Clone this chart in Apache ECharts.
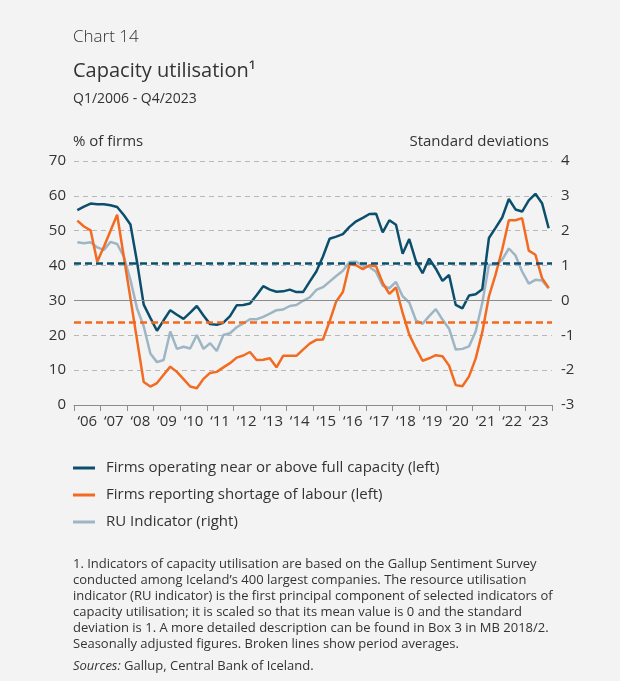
<!DOCTYPE html>
<html>
<head>
<meta charset="utf-8">
<script src="https://cdn.jsdelivr.net/npm/echarts@6/dist/echarts.min.js"></script>
<style>
  html, body { margin: 0; padding: 0; background: #f3f3f3; }
  #chart { width: 620px; height: 681px; }
</style>
</head>
<body>
<div id="chart"></div>
<script>
// Quarterly data, Q1/2006 - Q4/2023
const years = ['‘06','‘07','‘08','‘09','‘10','‘11','‘12','‘13','‘14','‘15','‘16','‘17','‘18','‘19','‘20','‘21','‘22','‘23'];
const quarters = [];
for (let y = 2006; y <= 2023; y++) for (let q = 1; q <= 4; q++) quarters.push('Q' + q + '/' + y);

// Firms operating near or above full capacity, % of firms (left axis)
const fullCapacity = [
  55.9, 56.9, 57.8, 57.6, 57.6, 57.3, 56.8, 54.5,
  51.8, 41.0, 28.8, 25.0, 21.3, 24.3, 27.2, 25.9,
  24.7, 26.5, 28.4, 25.7, 23.2, 23.0, 23.6, 25.5,
  28.6, 28.7, 29.1, 31.5, 34.1, 33.1, 32.5, 32.6,
  33.1, 32.4, 32.4, 35.4, 38.3, 42.6, 47.7, 48.3,
  49.0, 51.1, 52.7, 53.7, 54.8, 54.9, 49.5, 53.0,
  51.7, 43.4, 47.6, 41.3, 37.8, 42.0, 39.1, 35.6,
  37.3, 28.7, 27.7, 31.4, 31.8, 33.2, 47.9, 50.8,
  53.8, 59.1, 56.1, 55.5, 58.7, 60.6, 57.9, 50.7
];

// Firms reporting shortage of labour, % of firms (left axis)
const labourShortage = [
  52.9, 51.2, 50.1, 41.1, 45.4, 50.0, 54.6, 42.6,
  30.6, 18.6, 6.6, 5.3, 6.3, 8.7, 11.0, 9.5,
  7.4, 5.3, 4.8, 7.5, 9.2, 9.5, 10.8, 12.0,
  13.6, 14.2, 15.2, 12.9, 13.0, 13.4, 10.8, 14.1,
  14.1, 14.1, 15.9, 17.6, 18.7, 18.8, 24.0, 29.7,
  32.4, 40.4, 40.1, 39.0, 40.1, 39.8, 35.0, 31.9,
  33.7, 26.4, 20.2, 16.3, 12.7, 13.4, 14.3, 14.0,
  11.3, 5.7, 5.4, 8.2, 13.3, 20.9, 31.2, 37.4,
  44.6, 53.0, 53.0, 53.6, 44.3, 43.1, 36.4, 33.6
];

// Resource utilisation indicator, standard deviations (right axis)
const ruIndicator = [
  1.67, 1.64, 1.67, 1.52, 1.45, 1.68, 1.62, 1.26,
  0.59, -0.23, -0.74, -1.52, -1.77, -1.71, -0.89, -1.39,
  -1.33, -1.38, -0.99, -1.39, -1.23, -1.45, -0.99, -0.94,
  -0.77, -0.66, -0.54, -0.54, -0.47, -0.38, -0.28, -0.26,
  -0.16, -0.13, -0.01, 0.09, 0.30, 0.38, 0.54, 0.70,
  0.85, 1.10, 1.11, 1.00, 0.96, 0.82, 0.42, 0.35,
  0.53, 0.12, -0.06, -0.57, -0.67, -0.45, -0.25, -0.55,
  -0.81, -1.41, -1.39, -1.32, -0.89, -0.07, 1.02, 1.02,
  1.17, 1.49, 1.29, 0.83, 0.48, 0.59, 0.57, 0.34
];

// Period averages (left axis)
const fullCapacityAvg = 40.6;
const labourShortageAvg = 23.7;

const leftTicks = { min: 0, max: 70, interval: 10 };
const rightTicks = { min: -3, max: 4, interval: 1 };

const FONT = '"Open Sans", "Noto Sans", sans-serif';
const TEXT = '#333333';
const BLUE = '#0b4f6c';
const ORANGE = '#f26b21';
const LIGHT = '#9eb5c4';

const footnote = [
  '1. Indicators of capacity utilisation are based on the Gallup Sentiment Survey',
  'conducted among Iceland’s 400 largest companies. The resource utilisation',
  'indicator (RU indicator) is the first principal component of selected indicators of',
  'capacity utilisation; it is scaled so that its mean value is 0 and the standard',
  'deviation is 1. A more detailed description can be found in Box 3 in MB 2018/2.',
  'Seasonally adjusted figures. Broken lines show period averages.'
];

const chart = echarts.init(document.getElementById('chart'), null, { renderer: 'canvas' });

const graphics = [
  { type: 'text', left: 73, top: 29, style: { text: 'Chart 14', font: '300 17px ' + FONT, fill: TEXT } },
  { type: 'text', left: 73, top: 61, style: { text: 'Capacity utilisation¹', font: '20px ' + FONT, fill: TEXT } },
  { type: 'text', left: 73, top: 92, style: { text: 'Q1/2006 - Q4/2023', font: '14px ' + FONT, fill: TEXT } },
  { type: 'text', left: 73, top: 134, style: { text: '% of firms', font: '15px ' + FONT, fill: TEXT } },
  { type: 'text', right: 71, top: 134, style: { text: 'Standard deviations', font: '15px ' + FONT, fill: TEXT } }
];
footnote.forEach((line, i) => {
  graphics.push({ type: 'text', left: 73, top: 558 + i * 16, style: { text: line, font: '13px ' + FONT, fill: TEXT } });
});
graphics.push({
  type: 'text', left: 73, top: 660,
  style: {
    text: '{i|Sources:} Gallup, Central Bank of Iceland.',
    font: '13px ' + FONT, fill: TEXT,
    rich: { i: { fontStyle: 'italic', fontSize: 13, fontFamily: FONT, fill: TEXT } }
  }
});

chart.setOption({
  backgroundColor: '#f3f3f3',
  animation: false,
  textStyle: { fontFamily: FONT, color: TEXT },
  grid: { left: 74, right: 68, top: 161, bottom: 276, containLabel: false },
  graphic: graphics,
  legend: {
    orient: 'vertical',
    left: 73,
    top: 460,
    padding: 0,
    itemWidth: 22,
    itemHeight: 3,
    itemGap: 11,
    icon: 'rect',
    textStyle: { fontSize: 15, color: TEXT, fontFamily: FONT, lineHeight: 16, padding: [0, 0, 0, 6] },
    data: [
      { name: 'Firms operating near or above full capacity (left)', itemStyle: { color: BLUE } },
      { name: 'Firms reporting shortage of labour (left)', itemStyle: { color: ORANGE } },
      { name: 'RU Indicator (right)', itemStyle: { color: LIGHT } }
    ]
  },
  xAxis: [
    {
      type: 'category',
      data: quarters,
      boundaryGap: true,
      position: 'bottom',
      axisLine: { show: true, lineStyle: { color: '#8c8c8c', width: 1 } },
      axisTick: { show: true, interval: 3, length: 6, lineStyle: { color: '#8c8c8c' } },
      axisLabel: { show: false },
      splitLine: { show: false }
    },
    {
      type: 'category',
      data: years,
      boundaryGap: true,
      position: 'bottom',
      offset: 0,
      axisLine: { show: false },
      axisTick: { show: false },
      axisLabel: { show: true, fontSize: 15, color: TEXT, fontFamily: FONT, margin: 9 },
      splitLine: { show: false }
    }
  ],
  yAxis: [
    {
      type: 'value',
      position: 'left',
      min: leftTicks.min, max: leftTicks.max, interval: leftTicks.interval,
      axisLine: { show: false },
      axisTick: { show: false },
      axisLabel: { fontSize: 15, color: TEXT, fontFamily: FONT, margin: 8 },
      splitLine: { show: true, lineStyle: { color: '#b8b8b8', type: [5, 4], width: 1.2 } }
    },
    {
      type: 'value',
      position: 'right',
      min: rightTicks.min, max: rightTicks.max, interval: rightTicks.interval,
      axisLine: { show: false },
      axisTick: { show: false },
      axisLabel: { fontSize: 15, color: TEXT, fontFamily: FONT, margin: 9 },
      splitLine: { show: false }
    }
  ],
  series: [
    {
      name: 'RU Indicator (right)',
      type: 'line',
      xAxisIndex: 0,
      yAxisIndex: 1,
      data: ruIndicator,
      symbol: 'none',
      lineStyle: { color: LIGHT, width: 2.5 },
      itemStyle: { color: LIGHT },
      markLine: {
        silent: true, symbol: 'none', label: { show: false },
        lineStyle: { color: '#8c8c8c', type: 'solid', width: 1.2 },
        data: [{ yAxis: 0 }]
      },
      z: 2
    },
    {
      name: 'Firms reporting shortage of labour (left)',
      type: 'line',
      xAxisIndex: 0,
      yAxisIndex: 0,
      data: labourShortage,
      symbol: 'none',
      lineStyle: { color: ORANGE, width: 2.5 },
      itemStyle: { color: ORANGE },
      markLine: {
        silent: true, symbol: 'none', label: { show: false },
        lineStyle: { color: ORANGE, type: [7, 4], width: 2.6 },
        data: [{ yAxis: labourShortageAvg }]
      },
      z: 3
    },
    {
      name: 'Firms operating near or above full capacity (left)',
      type: 'line',
      xAxisIndex: 0,
      yAxisIndex: 0,
      data: fullCapacity,
      symbol: 'none',
      lineStyle: { color: BLUE, width: 2.5 },
      itemStyle: { color: BLUE },
      markLine: {
        silent: true, symbol: 'none', label: { show: false },
        lineStyle: { color: BLUE, type: [7, 4], width: 2.6 },
        data: [{ yAxis: fullCapacityAvg }]
      },
      z: 4
    }
  ]
});
</script>
</body>
</html>
